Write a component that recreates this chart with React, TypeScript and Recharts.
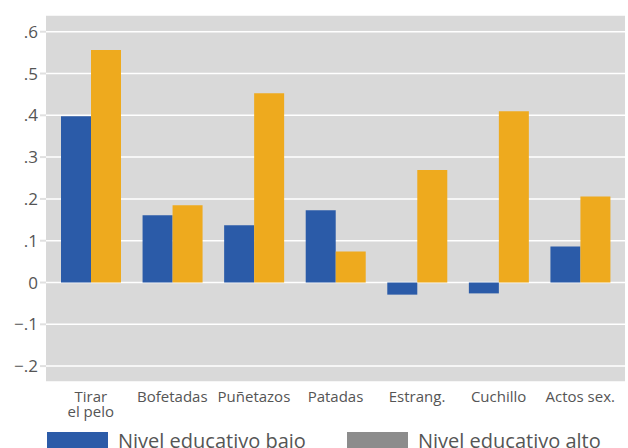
import React from "react";
import { BarChart, Bar, XAxis, YAxis, CartesianGrid } from "recharts";

const categorias = ["Tirar\nel pelo", "Bofetadas", "Puñetazos", "Patadas", "Estrang.", "Cuchillo", "Actos sex."];
const nivelBajo = [0.398, 0.161, 0.137, 0.173, -0.029, -0.026, 0.086];
const nivelAlto = [0.556, 0.185, 0.453, 0.074, 0.269, 0.41, 0.206];
const ticksY = [-0.2, -0.1, 0, 0.1, 0.2, 0.3, 0.4, 0.5, 0.6];

const data = categorias.map((name, i) => ({ name, bajo: nivelBajo[i], alto: nivelAlto[i] }));

const FONT = "'Open Sans', sans-serif";
const AZUL = "#2b5ba8";
const NARANJA = "#eeaa1e";

const formatY = (v: number) => {
  if (Math.abs(v) < 1e-9) return "0";
  const s = Math.abs(v).toFixed(1).replace(/^0/, "");
  return v < 0 ? "\u2212" + s : s;
};

const TickX = ({ x, y, payload }: any) => {
  const lines = String(payload.value).split("\n");
  return (
    <text x={x} y={y} textAnchor="middle" fill="#555" fontSize={15} fontFamily={FONT}>
      {lines.map((l, i) => (
        <tspan key={i} x={x} dy={i === 0 ? 12 : 15}>
          {l}
        </tspan>
      ))}
    </text>
  );
};

export default function App() {
  return (
    <div style={{ position: "absolute", left: 0, top: 0, width: 628, height: 448, overflow: "hidden", background: "#fff" }}>
      <BarChart
        width={628}
        height={448}
        data={data}
        margin={{ top: 15, right: 3, left: 0, bottom: 0 }}
        barSize={30}
        barGap={0}
      >
        <CartesianGrid vertical={false} fill="#d9d9d9" stroke="#fff" strokeWidth={1.5} fillOpacity={1} />
        <XAxis
          dataKey="name"
          interval={0}
          height={66}
          tick={<TickX />}
          tickLine={false}
          axisLine={false}
          padding={{ left: 4, right: 4 }}
        />
        <YAxis
          width={46}
          domain={[-0.238, 0.64]}
          ticks={ticksY}
          tickFormatter={formatY}
          axisLine={false}
          tickLine={{ stroke: "#e0e0e0", strokeWidth: 2 }}
          tickSize={6}
          tick={{ fill: "#555", fontSize: 17, fontFamily: FONT }}
          allowDataOverflow
        />
        <Bar dataKey="bajo" fill={AZUL} isAnimationActive={false} />
        <Bar dataKey="alto" fill={NARANJA} isAnimationActive={false} />
      </BarChart>
      <div style={{ position: "absolute", left: 47, top: 432, display: "flex", alignItems: "flex-start", fontFamily: FONT, fontSize: 20, color: "#555", lineHeight: "20px" }}>
        <div style={{ width: 61, height: 20, background: AZUL }} />
        <div style={{ marginLeft: 10, width: 229, marginTop: -1 }}>Nivel educativo bajo</div>
        <div style={{ width: 61, height: 20, background: "#8c8c8c" }} />
        <div style={{ marginLeft: 10, marginTop: -1 }}>Nivel educativo alto</div>
      </div>
    </div>
  );
}
